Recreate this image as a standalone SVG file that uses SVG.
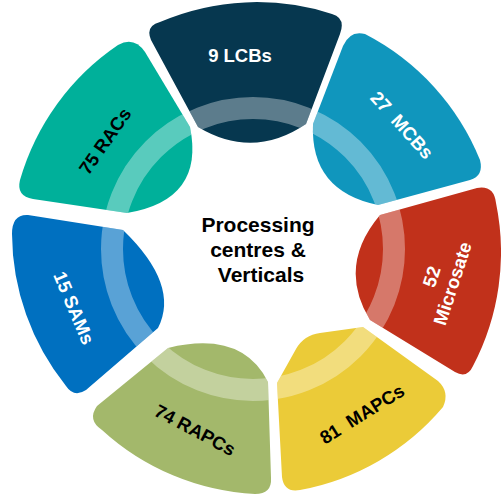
<svg xmlns="http://www.w3.org/2000/svg" xmlns:xlink="http://www.w3.org/1999/xlink" width="501" height="498" viewBox="0 0 501 498">
<style>
.lbl{font-family:"Liberation Sans",Arial,sans-serif;font-weight:bold;font-size:18.5px;text-anchor:middle}
.w{fill:#ffffff}
.k{fill:#000000}
.band{fill:none;stroke:#ffffff;stroke-opacity:0.35;stroke-width:22}
.ctr{font-family:"Liberation Sans",Arial,sans-serif;font-weight:bold;font-size:21px;text-anchor:middle;fill:#000000}
</style>
<defs>
<path id="p1" d="M 198,127 L 151,40 Q 145,26 160,22 A 245 245 0 0 1 332,14 Q 346,18 340,34 L 306,124 Q 253,160 198,127 Z"/>
<path id="p2" d="M 313,124 L 343,46 Q 350,30 365,34 A 245 245 0 0 1 480,160 Q 484,176 470,180 L 378,205 Q 310,191 313,124 Z"/>
<path id="p3" d="M 380,215 L 477,188 Q 494,185 496,203 A 245 245 0 0 1 473,366 Q 467,379 455,372 L 370,320 Q 337,266 380,215 Z"/>
<path id="p4" d="M 363,327 L 438,381 Q 450,392 443,407 A 245 245 0 0 1 300,490 Q 284,493 282,477 L 277,383 L 296,349 Q 304,335 320,333 Z"/>
<path id="p5" d="M 168,348 Q 242,330 268,382 L 271,478 Q 272,494 255,494 A 245 245 0 0 1 102,430 Q 87,420 97,406 Z"/>
<path id="p6" d="M 123,230 Q 180,285 158,328 L 86,390 Q 74,398 66,386 A 245 245 0 0 1 12,234 Q 12,214 28,215 Z"/>
<path id="p7" d="M 190,127 Q 205,200 127,213 L 33,199 Q 16,196 20,180 A 245 245 0 0 1 118,45 Q 134,36 145,52 Z"/>
<clipPath id="c1"><use xlink:href="#p1"/></clipPath>
<clipPath id="c2"><use xlink:href="#p2"/></clipPath>
<clipPath id="c3"><use xlink:href="#p3"/></clipPath>
<clipPath id="c4"><use xlink:href="#p4"/></clipPath>
<clipPath id="c5"><use xlink:href="#p5"/></clipPath>
<clipPath id="c6"><use xlink:href="#p6"/></clipPath>
<clipPath id="c7"><use xlink:href="#p7"/></clipPath>
</defs>
<rect width="501" height="498" fill="#ffffff"/>
<g id="connectors"></g>
<g id="lcbs">
<use xlink:href="#p1" fill="#06374f"/>
<circle class="band" cx="253" cy="249" r="141" clip-path="url(#c1)"/>
<text class="lbl w" x="240" y="62">9 LCBs</text>
</g>
<g id="mcbs">
<use xlink:href="#p2" fill="#1096bd"/>
<circle class="band" cx="253" cy="249" r="141" clip-path="url(#c2)"/>
<text class="lbl w" transform="translate(402,125) rotate(48)" y="6.5" xml:space="preserve">27  MCBs</text>
</g>
<g id="microsate">
<use xlink:href="#p3" fill="#c1311b"/>
<circle class="band" cx="253" cy="249" r="141" clip-path="url(#c3)"/>
<g transform="translate(442,280) rotate(-72)">
<text class="lbl w" x="0" y="-4.5">52</text>
<text class="lbl w" x="0" y="17.5">Microsate</text>
</g>
</g>
<g id="mapcs">
<use xlink:href="#p4" fill="#ebcb38"/>
<circle class="band" cx="253" cy="249" r="141" clip-path="url(#c4)"/>
<text class="lbl k" transform="translate(362,414) rotate(-32)" y="6.5" xml:space="preserve">81  MAPCs</text>
</g>
<g id="rapcs">
<use xlink:href="#p5" fill="#a3b86b"/>
<circle class="band" cx="253" cy="249" r="141" clip-path="url(#c5)"/>
<text class="lbl k" transform="translate(195,430) rotate(28)" y="6.5">74 RAPCs</text>
</g>
<g id="sams">
<use xlink:href="#p6" fill="#0070c0"/>
<circle class="band" cx="253" cy="249" r="141" clip-path="url(#c6)"/>
<text class="lbl w" transform="translate(74,308) rotate(67)" y="6.5">15 SAMs</text>
</g>
<g id="racs">
<use xlink:href="#p7" fill="#00b09a"/>
<circle class="band" cx="253" cy="249" r="141" clip-path="url(#c7)"/>
<text class="lbl k" transform="translate(105,141) rotate(-55)" y="6.5">75 RACs</text>
</g>
<g id="centre">
<text class="ctr" x="258" y="232">Processing</text>
<text class="ctr" x="258" y="257">centres &amp;</text>
<text class="ctr" x="261" y="282">Verticals</text>
</g>
</svg>
